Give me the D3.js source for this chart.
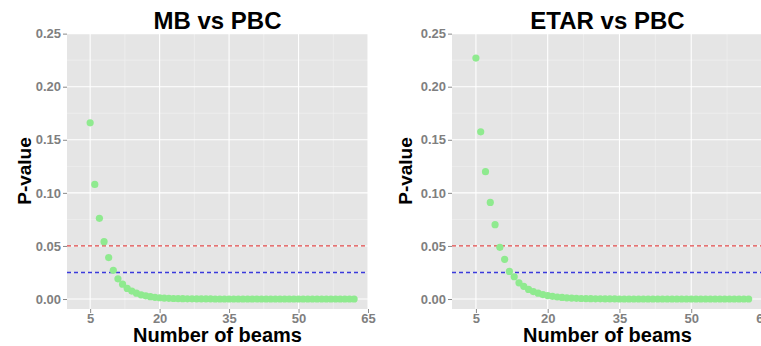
<!DOCTYPE html>
<html>
<head>
<meta charset="utf-8">
<script src="https://cdn.jsdelivr.net/npm/d3@7"></script>
<style>
  body { margin: 0; background: #fff; }
  svg { display: block; font-family: "Liberation Sans", Arial, sans-serif; }
</style>
</head>
<body>
<div id="chart"></div>
<script>
// number of beams, 5..62
const beams = d3.range(5, 63);

// p-values
const mbValues = [
  0.166, 0.108, 0.076, 0.054, 0.039, 0.027, 0.019, 0.014, 0.010, 0.0075,
  0.0055, 0.004, 0.003, 0.0022, 0.0016, 0.0012, 0.0009, 0.0007, 0.0005, 0.0004,
  0.0003, 0.0002, 0.0002, 0.0001, 0.0001, 0.0001, 0.0001, 0, 0, 0,
  0, 0, 0, 0, 0, 0, 0, 0, 0, 0,
  0, 0, 0, 0, 0, 0, 0, 0, 0, 0,
  0, 0, 0, 0, 0, 0, 0, 0
];
const etarValues = [
  0.227, 0.1575, 0.120, 0.091, 0.070, 0.0487, 0.0374, 0.026, 0.021, 0.0153,
  0.012, 0.009, 0.007, 0.0055, 0.0042, 0.0032, 0.0025, 0.0019, 0.0015, 0.0011,
  0.0009, 0.0007, 0.0005, 0.0004, 0.0003, 0.0002, 0.0002, 0.0001, 0.0001, 0.0001,
  0, 0, 0, 0, 0, 0, 0, 0, 0, 0,
  0, 0, 0, 0, 0, 0, 0, 0, 0, 0,
  0, 0, 0, 0, 0, 0, 0, 0
];

const xTicks = [5, 20, 35, 50, 65];
const xMinor = [12.5, 27.5, 42.5, 57.5];
const yTicks = [0, 0.05, 0.10, 0.15, 0.20, 0.25];
const yMinor = [0.025, 0.075, 0.125, 0.175, 0.225];
const thresholds = [
  {value: 0.05, color: '#e04848'},
  {value: 0.025, color: '#3b3bdc'}
];

const panels = [
  {title: 'MB vs PBC', values: mbValues, left: 67, right: 368, ylab: 31},
  {title: 'ETAR vs PBC', values: etarValues, left: 452, right: 763, ylab: 412}
];

const W = 761, H = 346;
const plotTop = 33, plotBottom = 309;

const svg = d3.select('#chart').append('svg')
  .attr('width', W)
  .attr('height', H);

panels.forEach(p => {
  const x = d3.scaleLinear().domain([0, 65]).range([p.left, p.right]);
  const y = d3.scaleLinear().domain([-0.0094, 0.2506]).range([plotBottom, plotTop]);

  const g = svg.append('g').attr('class', 'panel');

  // panel background
  g.append('rect')
    .attr('x', p.left)
    .attr('y', plotTop)
    .attr('width', p.right - p.left)
    .attr('height', plotBottom - plotTop)
    .attr('fill', '#e5e5e5');

  // minor grid
  g.selectAll('line.hminor')
    .data(yMinor)
    .enter().append('line')
      .attr('class', 'hminor')
      .attr('x1', p.left).attr('x2', p.right)
      .attr('y1', d => y(d)).attr('y2', d => y(d))
      .attr('stroke', '#f2f2f2')
      .attr('stroke-width', 0.6);
  g.selectAll('line.vminor')
    .data(xMinor)
    .enter().append('line')
      .attr('class', 'vminor')
      .attr('x1', d => x(d)).attr('x2', d => x(d))
      .attr('y1', plotTop).attr('y2', plotBottom)
      .attr('stroke', '#f2f2f2')
      .attr('stroke-width', 0.6);

  // major grid
  g.selectAll('line.hmajor')
    .data(yTicks)
    .enter().append('line')
      .attr('class', 'hmajor')
      .attr('x1', p.left).attr('x2', p.right)
      .attr('y1', d => y(d)).attr('y2', d => y(d))
      .attr('stroke', '#fff')
      .attr('stroke-width', 1.1);
  g.selectAll('line.vmajor')
    .data(xTicks)
    .enter().append('line')
      .attr('class', 'vmajor')
      .attr('x1', d => x(d)).attr('x2', d => x(d))
      .attr('y1', plotTop).attr('y2', plotBottom)
      .attr('stroke', '#fff')
      .attr('stroke-width', 1.1);

  // threshold lines
  g.selectAll('line.thresh')
    .data(thresholds)
    .enter().append('line')
      .attr('class', 'thresh')
      .attr('x1', p.left).attr('x2', p.right)
      .attr('y1', d => y(d.value)).attr('y2', d => y(d.value))
      .attr('stroke', d => d.color)
      .attr('stroke-width', 1.3)
      .attr('stroke-dasharray', '4,3');

  // points
  g.selectAll('circle')
    .data(beams.map((b, i) => ({b: b, v: p.values[i]})))
    .enter().append('circle')
      .attr('cx', d => x(d.b))
      .attr('cy', d => y(d.v))
      .attr('r', 3.6)
      .attr('fill', '#8fea8f');

  // axes
  const yAxis = d3.axisLeft(y)
    .tickValues(yTicks)
    .tickFormat(d3.format('.2f'))
    .tickSize(4)
    .tickPadding(2);
  const ya = g.append('g')
    .attr('transform', 'translate(' + p.left + ',0)')
    .call(yAxis);
  ya.select('.domain').remove();

  const xAxis = d3.axisBottom(x)
    .tickValues(xTicks)
    .tickFormat(d3.format('d'))
    .tickSize(4)
    .tickPadding(1);
  const xa = g.append('g')
    .attr('transform', 'translate(0,' + plotBottom + ')')
    .call(xAxis);
  xa.select('.domain').remove();

  [ya, xa].forEach(a => {
    a.selectAll('line').attr('stroke', '#8a8a8a');
    a.selectAll('text')
      .attr('fill', '#7f7f7f')
      .style('font-size', '13px')
      .style('font-weight', 'bold')
      .style('font-family', '"Liberation Sans", Arial, sans-serif');
  });

  // title
  g.append('text')
    .attr('x', (p.left + p.right) / 2)
    .attr('y', 29)
    .attr('text-anchor', 'middle')
    .style('font-size', '24px')
    .style('font-weight', 'bold')
    .text(p.title);

  // x label
  g.append('text')
    .attr('x', (p.left + p.right) / 2)
    .attr('y', 342)
    .attr('text-anchor', 'middle')
    .style('font-size', '20px')
    .style('font-weight', 'bold')
    .text('Number of beams');

  // y label
  g.append('text')
    .attr('transform', 'translate(' + p.ylab + ',' + ((plotTop + plotBottom) / 2) + ') rotate(-90)')
    .attr('text-anchor', 'middle')
    .style('font-size', '19px')
    .style('font-weight', 'bold')
    .text('P-value');
});
</script>
</body>
</html>
